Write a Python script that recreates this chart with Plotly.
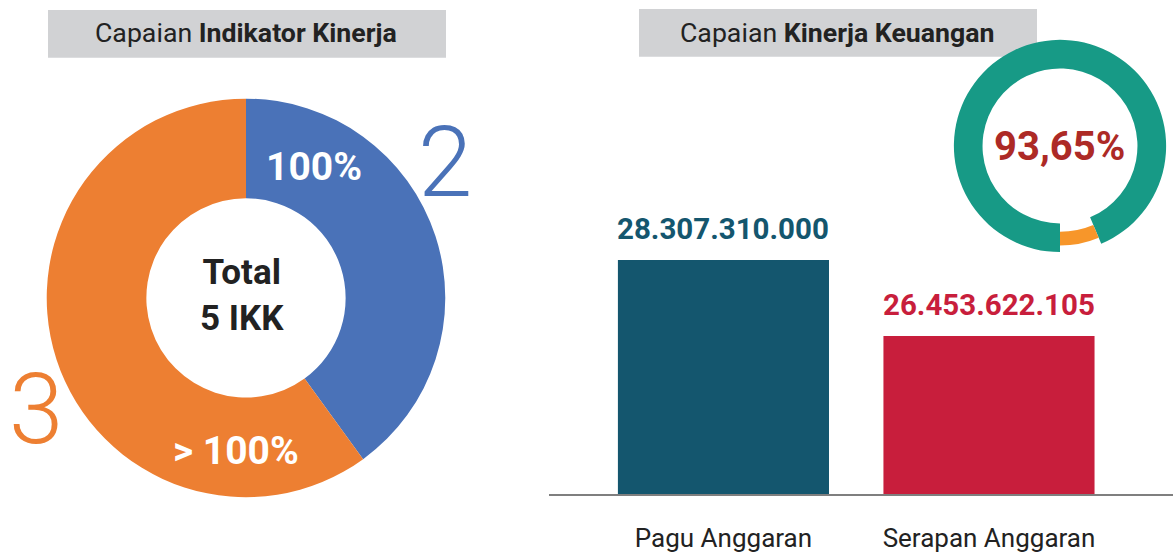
import plotly.graph_objects as go

W, H = 1173, 553

# ---- data ----
ikk_labels = ["100%", "> 100%"]
ikk_counts = [2, 3]
ikk_total = 5

budget_categories = ["Pagu Anggaran", "Serapan Anggaran"]
budget_values = [28307310000, 26453622105]

realisasi_pct = 93.65

# ---- styles ----
BLUE = "#4A72B8"
ORANGE = "#ED7F32"
BAR_COLORS = ["#14566E", "#C81E3C"]
TEAL = "#179A86"
GAUGE_ORANGE = "#F7962A"
DARK = "#222222"
GRAY_BOX = "#D1D2D4"


def fx(x):
    return x / W


def fy(y):
    return 1 - y / H


def dom(cx, cy, r):
    return dict(x=[fx(cx - r), fx(cx + r)], y=[fy(cy + r), fy(cy - r)])


def fmt_id(v):
    return f"{v:,}".replace(",", ".")


fig = go.Figure()

# Left donut
fig.add_trace(go.Pie(
    values=ikk_counts, labels=ikk_labels, sort=False, direction="clockwise",
    rotation=0, hole=0.5, marker=dict(colors=[BLUE, ORANGE], line=dict(width=0)),
    textinfo="none", hoverinfo="skip", showlegend=False,
    domain=dom(246, 299, 200),
))

# Gauge (teal ring)
fig.add_trace(go.Pie(
    values=[realisasi_pct, 100 - realisasi_pct], sort=False, direction="clockwise",
    rotation=180, hole=0.73,
    marker=dict(colors=[TEAL, "rgba(0,0,0,0)"], line=dict(width=0)),
    textinfo="none", hoverinfo="skip", showlegend=False,
    domain=dom(1060, 146.5, 106.5),
))
# Gauge (thin orange remainder)
fig.add_trace(go.Pie(
    values=[realisasi_pct, 100 - realisasi_pct], sort=False, direction="clockwise",
    rotation=180, hole=0.86,
    marker=dict(colors=["rgba(0,0,0,0)", GAUGE_ORANGE], line=dict(width=0)),
    textinfo="none", hoverinfo="skip", showlegend=False,
    domain=dom(1060, 146.5, 100),
))

# Bars
fig.add_trace(go.Bar(
    x=budget_categories, y=budget_values, marker=dict(color=BAR_COLORS, line=dict(width=0)),
    width=0.795, hoverinfo="skip", showlegend=False,
))

annotations = []
for cat, val, col in zip(budget_categories, budget_values, BAR_COLORS):
    annotations.append(dict(
        x=cat, y=val, xref="x", yref="y", text=f"<b>{fmt_id(val)}</b>",
        showarrow=False, xanchor="center", yanchor="middle", yshift=31,
        font=dict(family="Roboto", size=29.5, color=col),
    ))


def label(px, py, text, size, color, weight=None):
    f = dict(family="Roboto", size=size, color=color)
    if weight:
        f["weight"] = weight
    return dict(x=fx(px), y=fy(py), text=text, showarrow=False, xref="paper", yref="paper",
                xanchor="center", yanchor="middle", font=f)


annotations += [
    label(314, 168, f"<b>{ikk_labels[0]}</b>", 39, "white"),
    label(236, 453, f"<b>{ikk_labels[1]}</b>", 39, "white"),
    label(445, 163, str(ikk_counts[0]), 98, BLUE, 300),
    label(36, 411, str(ikk_counts[1]), 98, ORANGE, 300),
    label(242, 297, f"<b>Total<br>{ikk_total} IKK</b>", 35, DARK),
    label(1059, 147, f"<b>{realisasi_pct:.2f}%</b>".replace(".", ","), 40, "#AD2A26"),
    label(246, 33.5, "Capaian <b>Indikator Kinerja</b>", 26.7, DARK),
    label(837, 33, "Capaian <b>Kinerja Keuangan</b>", 26.7, DARK),
]

shapes = [
    dict(type="rect", xref="paper", yref="paper", x0=fx(48), x1=fx(446), y0=fy(58), y1=fy(10),
         fillcolor=GRAY_BOX, line=dict(width=0), layer="below"),
    dict(type="rect", xref="paper", yref="paper", x0=fx(639), x1=fx(1037), y0=fy(57), y1=fy(9),
         fillcolor=GRAY_BOX, line=dict(width=0), layer="below"),
]

px_per_unit = (337.3 - 261) / (budget_values[0] - budget_values[1])
y0 = budget_values[0] - (496 - 261) / px_per_unit
y1 = y0 + 496 / px_per_unit

fig.update_layout(
    width=W, height=H, margin=dict(l=0, r=0, t=0, b=0),
    paper_bgcolor="white", plot_bgcolor="rgba(0,0,0,0)",
    font=dict(family="Roboto", color=DARK),
    xaxis=dict(domain=[fx(549), 1], range=[-0.657, 1.693], showline=True, linecolor="#7F7F7F",
               linewidth=2, showgrid=False, zeroline=False, ticks="", ticklabelstandoff=20,
               tickfont=dict(family="Roboto", size=26, color=DARK), fixedrange=True),
    yaxis=dict(domain=[fy(496), 1], range=[y0, y1], visible=False, fixedrange=True),
    annotations=annotations, shapes=shapes,
)

fig.write_html("out.html", config={"displayModeBar": False},
               post_script="document.body.style.margin='0';document.body.style.overflow='hidden';")
